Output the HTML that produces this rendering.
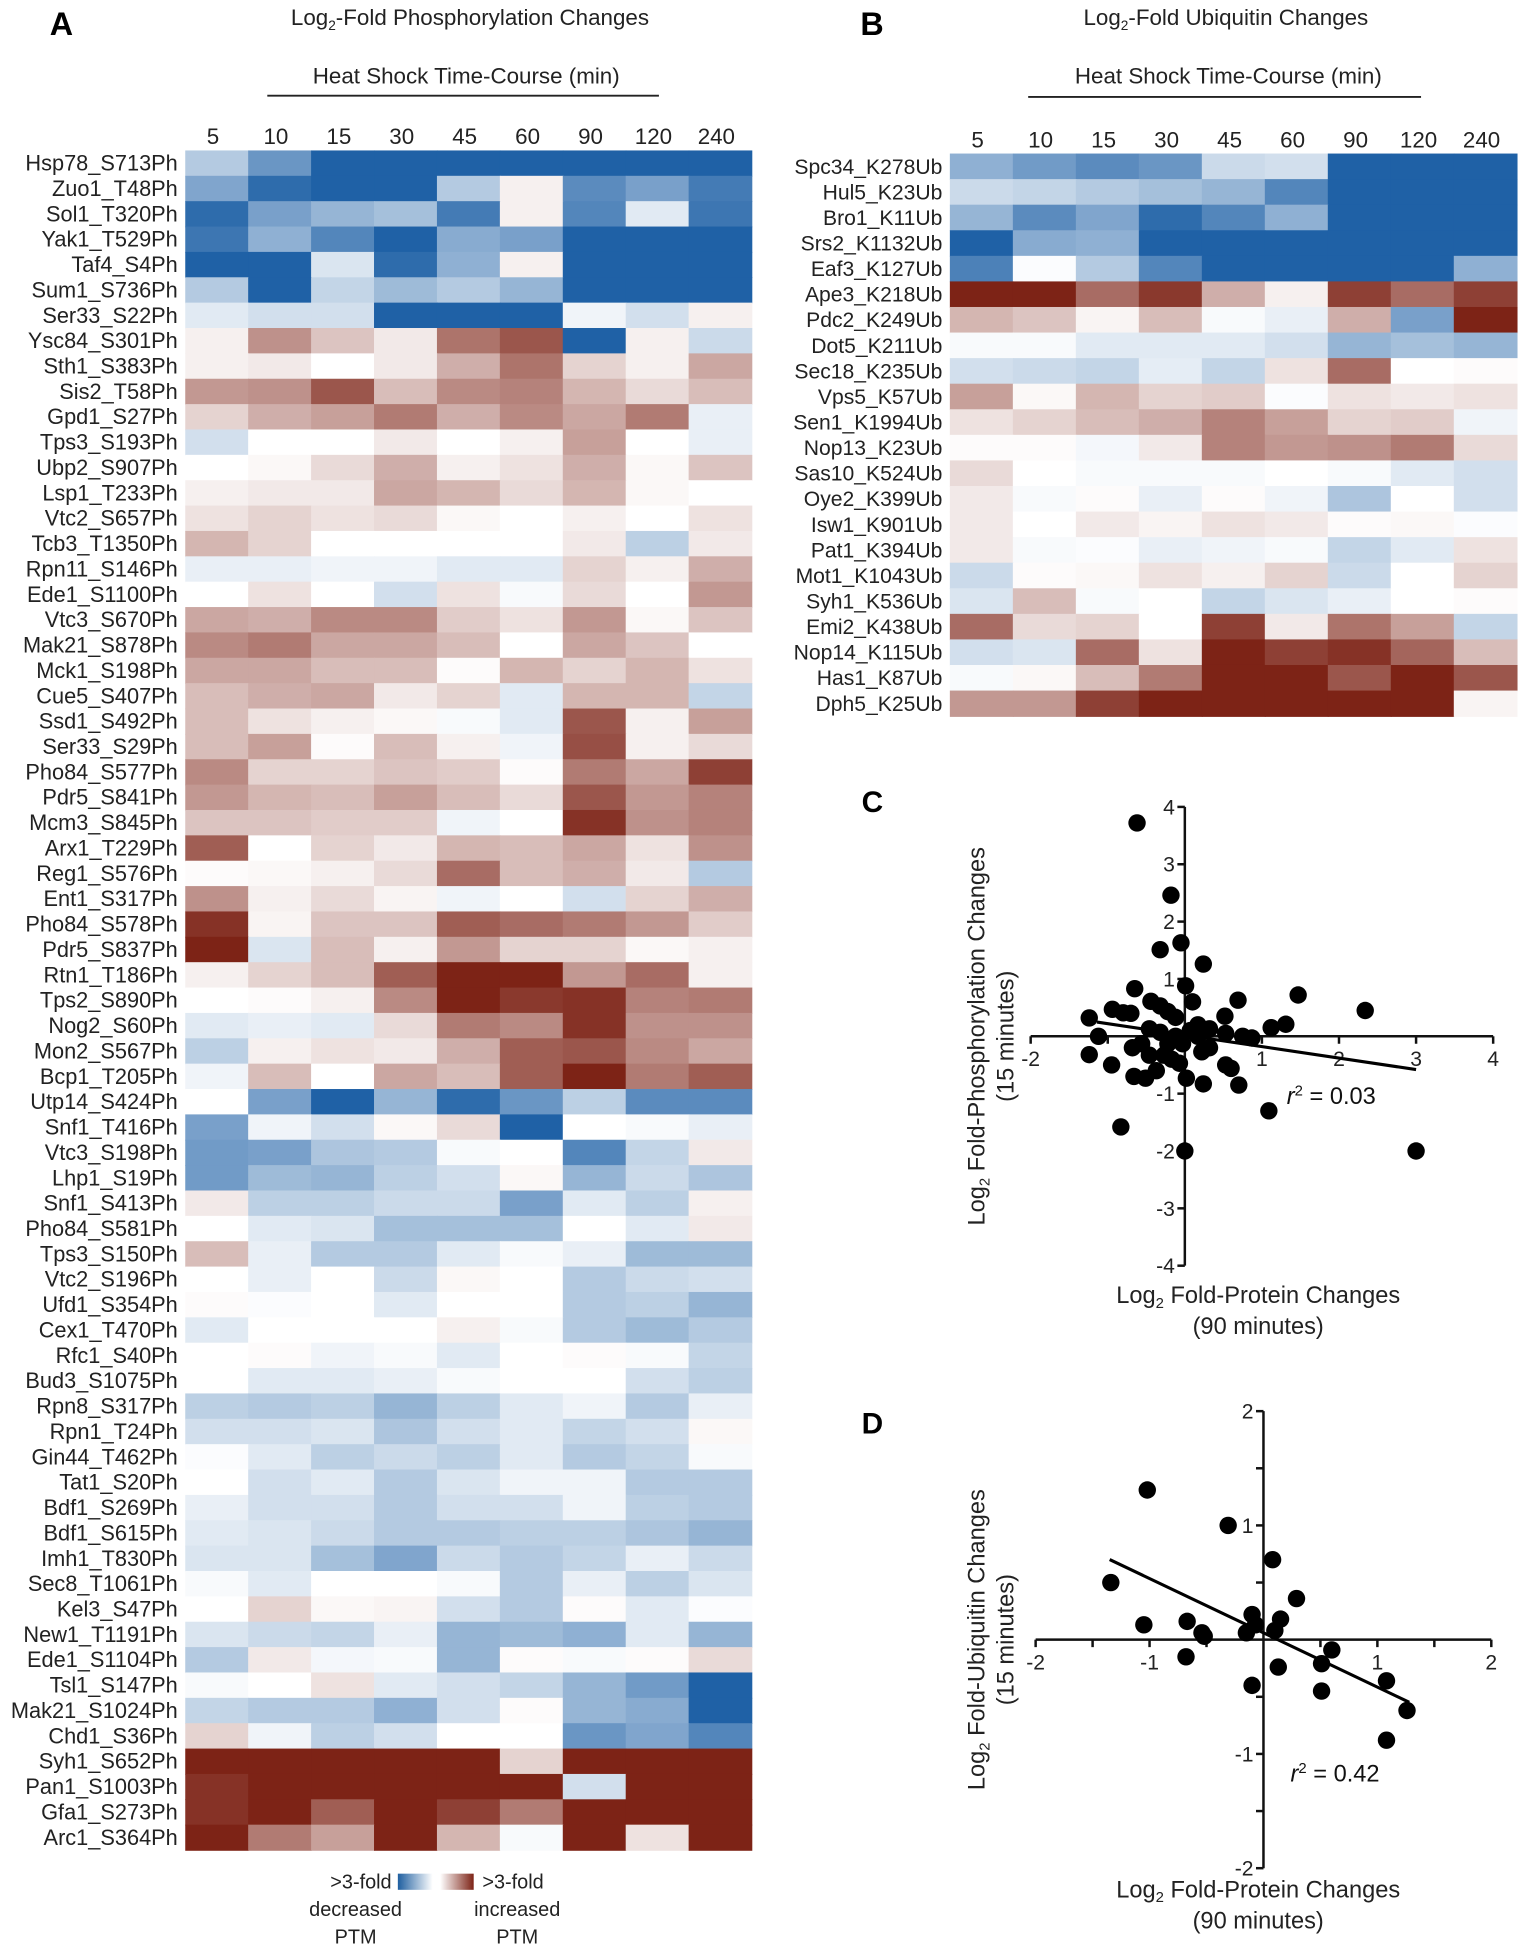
<!DOCTYPE html>
<html><head><meta charset="utf-8"><title>PTM heatmaps and correlations</title>
<style>
html,body{margin:0;padding:0;background:#fff;}
svg{display:block;font-family:"Liberation Sans",Arial,sans-serif;}
</style></head>
<body>
<svg id="fig" xmlns="http://www.w3.org/2000/svg" width="1523" height="1950" viewBox="0 0 1225 1568.4" preserveAspectRatio="none">
<defs>
<linearGradient id="gBlue" x1="0" x2="1" y1="0" y2="0"><stop offset="0" stop-color="#1f5fa0"/><stop offset="1" stop-color="#ffffff"/></linearGradient>
<linearGradient id="gRed" x1="0" x2="1" y1="0" y2="0"><stop offset="0" stop-color="#ffffff"/><stop offset="1" stop-color="#7d2316"/></linearGradient>
</defs>
<text x="40" y="28" font-size="26" font-weight="bold">A</text>
<text x="378" y="20" font-size="18" text-anchor="middle" fill="#222">Log<tspan font-size="11" dy="4">2</tspan><tspan dy="-4">-Fold Phosphorylation Changes</tspan></text>
<text x="375" y="67" font-size="18" text-anchor="middle" fill="#222">Heat Shock Time-Course (min)</text>
<line x1="215" y1="77" x2="530" y2="77" stroke="#222" stroke-width="1.5"/>
<text x="692" y="28" font-size="26" font-weight="bold">B</text>
<text x="986" y="20" font-size="18" text-anchor="middle" fill="#222">Log<tspan font-size="11" dy="4">2</tspan><tspan dy="-4">-Fold Ubiquitin Changes</tspan></text>
<text x="988" y="67" font-size="18" text-anchor="middle" fill="#222">Heat Shock Time-Course (min)</text>
<line x1="827" y1="78" x2="1143" y2="78" stroke="#222" stroke-width="1.5"/>
<text x="693" y="653" font-size="24" font-weight="bold">C</text>
<text x="693" y="1153" font-size="24" font-weight="bold">D</text>
<g>
<rect x="320" y="1507" width="28" height="13" fill="url(#gBlue)"/>
<rect x="354" y="1507" width="27" height="13" fill="url(#gRed)"/>
<text x="315" y="1519" font-size="16" text-anchor="end" fill="#222">&gt;3-fold</text>
<text x="286" y="1541" font-size="16" text-anchor="middle" fill="#222">decreased</text>
<text x="286" y="1563" font-size="16" text-anchor="middle" fill="#222">PTM</text>
<text x="388" y="1519" font-size="16" fill="#222">&gt;3-fold</text>
<text x="416" y="1541" font-size="16" text-anchor="middle" fill="#222">increased</text>
<text x="416" y="1563" font-size="16" text-anchor="middle" fill="#222">PTM</text>
</g>
</svg>
<script>
const timepoints = ["5","10","15","30","45","60","90","120","240"];
const phosSites = ["Hsp78_S713Ph","Zuo1_T48Ph","Sol1_T320Ph","Yak1_T529Ph","Taf4_S4Ph","Sum1_S736Ph","Ser33_S22Ph","Ysc84_S301Ph","Sth1_S383Ph","Sis2_T58Ph","Gpd1_S27Ph","Tps3_S193Ph","Ubp2_S907Ph","Lsp1_T233Ph","Vtc2_S657Ph","Tcb3_T1350Ph","Rpn11_S146Ph","Ede1_S1100Ph","Vtc3_S670Ph","Mak21_S878Ph","Mck1_S198Ph","Cue5_S407Ph","Ssd1_S492Ph","Ser33_S29Ph","Pho84_S577Ph","Pdr5_S841Ph","Mcm3_S845Ph","Arx1_T229Ph","Reg1_S576Ph","Ent1_S317Ph","Pho84_S578Ph","Pdr5_S837Ph","Rtn1_T186Ph","Tps2_S890Ph","Nog2_S60Ph","Mon2_S567Ph","Bcp1_T205Ph","Utp14_S424Ph","Snf1_T416Ph","Vtc3_S198Ph","Lhp1_S19Ph","Snf1_S413Ph","Pho84_S581Ph","Tps3_S150Ph","Vtc2_S196Ph","Ufd1_S354Ph","Cex1_T470Ph","Rfc1_S40Ph","Bud3_S1075Ph","Rpn8_S317Ph","Rpn1_T24Ph","Gin44_T462Ph","Tat1_S20Ph","Bdf1_S269Ph","Bdf1_S615Ph","Imh1_T830Ph","Sec8_T1061Ph","Kel3_S47Ph","New1_T1191Ph","Ede1_S1104Ph","Tsl1_S147Ph","Mak21_S1024Ph","Chd1_S36Ph","Syh1_S652Ph","Pan1_S1003Ph","Gfa1_S273Ph","Arc1_S364Ph"];
const phosValues = [
[-1,-2,-3,-3,-3,-3,-3,-3,-3],
[-1.7,-2.8,-3,-3,-1,0.2,-2.2,-1.8,-2.5],
[-2.8,-1.8,-1.4,-1.2,-2.5,0.2,-2.3,-0.4,-2.6],
[-2.6,-1.5,-2.3,-3,-1.6,-1.8,-3,-3,-3],
[-3,-3,-0.5,-2.8,-1.5,0.2,-3,-3,-3],
[-1,-3,-0.8,-1.3,-1,-1.4,-3,-3,-3],
[-0.4,-0.6,-0.6,-3,-3,-3,-0.2,-0.6,0.2],
[0.2,1.5,0.8,0.3,1.9,2.3,-3,0.2,-0.7],
[0.2,0.3,0,0.3,1.1,1.9,0.6,0.2,1.2],
[1.4,1.5,2.3,0.9,1.6,1.7,1,0.5,0.9],
[0.6,1.1,1.3,1.8,1.1,1.6,1.2,1.8,-0.3],
[-0.6,0,0,0.3,0,0.2,1.3,0,-0.3],
[0,0.1,0.5,1.1,0.2,0.4,1.1,0.1,0.8],
[0.2,0.3,0.3,1.2,1,0.5,1,0.1,0],
[0.4,0.6,0.4,0.5,0.1,0,0.2,0,0.4],
[1,0.6,0,0,0,0,0.3,-0.9,0.3],
[-0.3,-0.3,-0.2,-0.2,-0.4,-0.4,0.6,0.2,1.1],
[0,0.4,0,-0.6,0.4,-0.1,0.5,0,1.4],
[1.2,1.1,1.6,1.6,0.7,0.4,1.4,0.1,0.8],
[1.6,1.8,1.2,1.2,0.9,0,1.2,0.8,0],
[1.2,1.2,0.9,0.9,0.05,1,0.6,1,0.4],
[0.9,1.1,1.2,0.3,0.6,-0.4,1,1,-0.8],
[0.9,0.4,0.2,0.1,-0.1,-0.4,2.3,0.2,1.3],
[0.9,1.3,0.05,0.9,0.2,-0.2,2.4,0.2,0.5],
[1.6,0.6,0.6,0.8,0.7,0.05,1.8,1.2,2.6],
[1.4,1,0.9,1.3,0.9,0.5,2.3,1.4,1.7],
[0.8,0.8,0.7,0.7,-0.2,0,2.8,1.5,1.7],
[2.2,0,0.6,0.3,1,0.9,1.2,0.4,1.5],
[0.05,0.1,0.2,0.5,2,0.9,1.1,0.3,-1],
[1.5,0.2,0.5,0.15,-0.2,0,-0.6,0.6,1.1],
[2.8,0.15,0.8,0.8,2.2,2,1.8,1.4,0.7],
[3,-0.5,0.9,0.2,1.4,0.6,0.6,0.1,0.2],
[0.2,0.6,0.9,2.2,3,3,1.4,2,0.2],
[0,0.05,0.2,1.6,3,2.7,2.8,1.7,1.8],
[-0.4,-0.3,-0.4,0.5,1.8,1.6,2.8,1.5,1.5],
[-0.9,0.2,0.4,0.3,1.1,2.2,2.3,1.6,1.2],
[-0.2,0.9,0,1.2,0.9,2.2,3,1.8,2.2],
[0,-1.8,-3,-1.4,-2.8,-2,-0.9,-2.2,-2.2],
[-1.8,-0.2,-0.6,0.1,0.5,-3,0,-0.1,-0.3],
[-1.9,-1.8,-1.1,-1,-0.1,0,-2.3,-0.8,0.3],
[-1.9,-1.3,-1.4,-0.9,-0.6,0.1,-1.4,-0.7,-1.1],
[0.3,-0.9,-0.9,-0.7,-0.7,-1.8,-0.4,-0.9,0.2],
[0,-0.4,-0.5,-1.2,-1.2,-1.2,0,-0.4,0.3],
[0.9,-0.3,-1,-1,-0.4,-0.1,-0.3,-1.3,-1.3],
[0,-0.3,0,-0.7,0.1,0,-1,-0.7,-0.6],
[0.05,-0.05,0,-0.4,0,0,-1,-0.9,-1.4],
[-0.4,0,0,0,0.2,-0.1,-1,-1.3,-1],
[0,0.05,-0.2,-0.1,-0.4,0,0.05,-0.1,-0.8],
[0,-0.4,-0.4,-0.3,-0.1,0,0,-0.6,-0.9],
[-0.9,-1,-0.9,-1.4,-0.9,-0.4,-0.2,-1,-0.3],
[-0.6,-0.6,-0.5,-1.1,-0.6,-0.4,-0.8,-0.6,0.1],
[-0.05,-0.4,-0.9,-0.7,-0.9,-0.4,-1,-0.8,-0.1],
[0,-0.6,-0.4,-1,-0.5,-0.2,-0.2,-1,-1],
[-0.3,-0.6,-0.6,-1,-0.6,-0.6,-0.2,-0.9,-1],
[-0.4,-0.5,-0.7,-1,-1,-0.9,-0.9,-1.1,-1.4],
[-0.5,-0.5,-1.2,-1.7,-0.7,-1,-0.8,-0.3,-0.7],
[-0.1,-0.4,0,0,-0.1,-1,-0.3,-0.9,-0.5],
[0,0.6,0.1,0.15,-0.6,-1,0.05,-0.4,-0.05],
[-0.5,-0.7,-0.8,-0.3,-1.4,-1.3,-1.5,-0.4,-1.4],
[-1,0.3,-0.15,-0.1,-1.4,0.05,-0.1,0.05,0.5],
[-0.1,0,0.4,-0.4,-0.6,-0.8,-1.4,-1.9,-3],
[-0.8,-1,-1,-1.5,-0.6,0.05,-1.4,-1.6,-3],
[0.6,-0.2,-0.9,-0.6,0,0,-2,-1.7,-2.3],
[3,3,3,3,3,0.6,3,3,3],
[2.8,3,3,3,3,3,-0.6,3,3],
[2.8,3,2.2,3,2.6,1.8,3,3,3],
[3,1.8,1.3,3,1,-0.1,3,0.4,3]
];
const ubSites = ["Spc34_K278Ub","Hul5_K23Ub","Bro1_K11Ub","Srs2_K1132Ub","Eaf3_K127Ub","Ape3_K218Ub","Pdc2_K249Ub","Dot5_K211Ub","Sec18_K235Ub","Vps5_K57Ub","Sen1_K1994Ub","Nop13_K23Ub","Sas10_K524Ub","Oye2_K399Ub","Isw1_K901Ub","Pat1_K394Ub","Mot1_K1043Ub","Syh1_K536Ub","Emi2_K438Ub","Nop14_K115Ub","Has1_K87Ub","Dph5_K25Ub"];
const ubValues = [
[-1.5,-1.9,-2.2,-2,-0.7,-0.6,-3,-3,-3],
[-0.7,-0.8,-1,-1.2,-1.4,-2.3,-3,-3,-3],
[-1.4,-2.2,-1.7,-2.8,-2.3,-1.5,-3,-3,-3],
[-3,-1.6,-1.5,-3,-3,-3,-3,-3,-3],
[-2.4,-0.05,-1,-2.3,-3,-3,-3,-3,-1.5],
[3,3,2,2.7,1.1,0.2,2.6,2,2.6],
[1,0.8,0.15,0.9,-0.1,-0.3,1.1,-1.8,3],
[-0.1,-0.1,-0.4,-0.4,-0.4,-0.6,-1.4,-1.2,-1.4],
[-0.6,-0.7,-0.8,-0.35,-0.8,0.4,2,0,0.05],
[1.3,0.1,1,0.6,0.7,-0.05,0.4,0.3,0.4],
[0.4,0.6,0.9,1.1,1.7,1.3,0.6,0.7,-0.2],
[0.05,0.05,-0.15,0.3,1.7,1.4,1.5,1.8,0.5],
[0.5,0,-0.1,-0.1,-0.1,0,-0.1,-0.4,-0.6],
[0.3,-0.1,0.05,-0.3,0.05,-0.2,-1.1,0,-0.6],
[0.3,0,0.3,0.15,0.4,0.3,0.05,0.1,-0.05],
[0.3,-0.1,-0.05,-0.3,-0.2,-0.1,-0.8,-0.4,0.4],
[-0.7,0.05,0.1,0.4,0.2,0.6,-0.7,0,0.6],
[-0.5,0.9,-0.1,0,-0.8,-0.5,-0.3,0,0.05],
[2,0.5,0.6,0,2.6,0.3,1.9,1.3,-0.8],
[-0.6,-0.5,2,0.4,3,2.6,2.8,2.1,0.9],
[-0.1,0.1,0.9,1.8,3,3,2.3,3,2.3],
[1.4,1.4,2.6,3,3,3,3,3,0.15]
];
const cProteinX = [-0.62,-0.18,-0.05,-0.32,0.24,0.01,-0.65,0.1,0.69,1.47,2.34,-1.24,-0.94,-0.7,-0.8,-0.44,-0.32,-0.22,-0.12,0.52,0.17,0.32,1.12,1.31,0.75,0.87,0.53,-1.12,-1.24,-0.95,-0.83,0,1.09,3.0,0.24,0.7,0.53,0.6,-0.66,-0.51,-0.37,-0.27,-0.07,0.02,0.22,0.32,-0.68,-0.56,-0.46,-0.32,-0.22,-0.12,-0.03,0.07,0.17,-0.46,-0.17];
const cPhosY = [3.72,2.46,1.63,1.51,1.26,0.88,0.83,0.6,0.63,0.72,0.45,0.32,0.47,0.4,0.41,0.61,0.53,0.43,0.33,0.35,0.2,0.13,0.15,0.21,0,-0.03,0.05,0,-0.32,-0.5,-1.58,-2,-1.3,-2,-0.83,-0.85,-0.5,-0.56,-0.7,-0.73,-0.6,-0.33,-0.47,-0.73,-0.27,-0.2,-0.2,-0.13,0.13,0.07,-0.13,0,-0.13,0.1,0,-0.33,-0.4];
const cFit = {slope:-0.2, intercept:0.02, xFrom:-1.14, xTo:3.0};
const cR2 = "0.03";
const dProteinX = [-1.02,-0.31,0.08,-1.34,0.29,-1.05,-0.67,-0.54,-0.52,-0.1,-0.15,-0.07,0.1,0.15,-0.68,0.13,-0.1,0.6,0.51,0.51,1.08,1.26,1.08];
const dUbY = [1.31,1.0,0.7,0.5,0.36,0.13,0.16,0.06,0.03,0.22,0.06,0.13,0.08,0.18,-0.15,-0.24,-0.4,-0.09,-0.21,-0.45,-0.36,-0.62,-0.88];
const dFit = {slope:-0.475, intercept:0.06, xFrom:-1.35, xTo:1.28};
const dR2 = "0.42";

const NS = "http://www.w3.org/2000/svg";
const svg = document.getElementById("fig");
function mk(tag, attrs, parent){const e=document.createElementNS(NS,tag);for(const k in attrs)e.setAttribute(k,attrs[k]);(parent||svg).appendChild(e);return e;}
function color(v){
  const t=Math.max(-1,Math.min(1,v/3));
  let c;
  if(t<0){const a=-t;c=[255+(31-255)*a,255+(97-255)*a,255+(166-255)*a];}
  else{const a=t;c=[255+(125-255)*a,255+(35-255)*a,255+(22-255)*a];}
  return "rgb("+c.map(Math.round).join(",")+")";
}
function heatmap(name, sites, values, x0, x1, y0, y1, labelX, labelSize){
  const g=mk("g",{});
  
  
  const cw=(x1-x0)/timepoints.length, rh=(y1-y0)/sites.length;
  const colX=i=>x0+i*cw, rowY=j=>y0+j*rh;
  timepoints.forEach((t,i)=>{
    const tx=mk("text",{x:colX(i)+cw/2-3,y:y0-5,"font-size":18,"text-anchor":"middle",fill:"#222"},g);
    tx.textContent=t;
    
    
  });
  sites.forEach((s,j)=>{
    const tl=mk("text",{x:labelX,y:rowY(j)+rh/2+6,"font-size":labelSize,"text-anchor":"end",fill:"#222"},g);
    tl.textContent=s;
    
    
    values[j].forEach((v,i)=>{
      const r=mk("rect",{x:colX(i),y:rowY(j),width:cw+0.6,height:rh+0.6,fill:color(v)},g);
      
      
    });
  });
}
heatmap("phospho-heatmap", phosSites, phosValues, 149, 604.5, 121, 1488, 143, 17.5);
heatmap("ubiquitin-heatmap", ubSites, ubValues, 764, 1220, 123.5, 576, 758, 17);

function scatter(name, xs, ys, fit, r2, o){
  const g=mk("g",{});
  
  
  const sx=v=>o.xL+(v-o.xmin)*(o.xR-o.xL)/(o.xmax-o.xmin);
  const sy=v=>o.yB-(v-o.ymin)*(o.yB-o.yT)/(o.ymax-o.ymin);
  const x0=sx(0), y0=sy(0);
  const xa=mk("line",{x1:sx(o.xmin),x2:sx(o.xmax),y1:y0,y2:y0,stroke:"#111","stroke-width":2},g);
  
  
  const ya=mk("line",{x1:x0,x2:x0,y1:sy(o.ymax),y2:sy(o.ymin),stroke:"#111","stroke-width":2},g);
  
  
  o.xticks.forEach(t=>{
    mk("line",{x1:sx(t),x2:sx(t),y1:y0,y2:y0+6,stroke:"#111","stroke-width":2},g);
    if(o.xlabels.includes(t)){
      const tx=mk("text",{x:sx(t),y:y0+24,"font-size":17,"text-anchor":"middle",fill:"#222"},g);
      tx.textContent=String(t);
      
      
    }
  });
  o.yticks.forEach(t=>{
    mk("line",{x1:x0-6,x2:x0,y1:sy(t),y2:sy(t),stroke:"#111","stroke-width":2},g);
    if(o.ylabels.includes(t)){
      const tx=mk("text",{x:x0-8,y:sy(t)+6,"font-size":17,"text-anchor":"end",fill:"#222"},g);
      tx.textContent=String(t);
      
      
    }
  });
  xs.forEach((x,i)=>{
    const c=mk("circle",{cx:sx(x),cy:sy(ys[i]),r:7,fill:"#000"},g);
    
    
  });
  const fl=mk("line",{x1:sx(fit.xFrom),y1:sy(fit.intercept+fit.slope*fit.xFrom),x2:sx(fit.xTo),y2:sy(fit.intercept+fit.slope*fit.xTo),stroke:"#000","stroke-width":2.5},g);
  
  
  const rt=mk("text",{x:o.r2x,y:o.r2y,"font-size":19,fill:"#111"},g);
  rt.innerHTML='<tspan font-style="italic">r</tspan><tspan font-size="12" dy="-7">2</tspan><tspan dy="7"> = '+r2+'</tspan>';
  
  
  const cy=(o.yT+o.yB)/2;
  const t1=mk("text",{x:0,y:0,"font-size":19,"text-anchor":"middle",fill:"#222",transform:"translate(792,"+cy+") rotate(-90)"},g);
  t1.innerHTML='Log<tspan font-size="12" dy="4">2</tspan><tspan dy="-4"> '+o.ytitle+'</tspan>';
  
  
  const t2=mk("text",{x:0,y:0,"font-size":19,"text-anchor":"middle",fill:"#222",transform:"translate(815,"+cy+") rotate(-90)"},g);
  t2.textContent="(15 minutes)";
  
  
  const t3=mk("text",{x:1012,y:o.xtY,"font-size":19,"text-anchor":"middle",fill:"#222"},g);
  t3.innerHTML='Log<tspan font-size="12" dy="4">2</tspan><tspan dy="-4"> Fold-Protein Changes</tspan>';
  
  
  const t4=mk("text",{x:1012,y:o.xtY+25,"font-size":19,"text-anchor":"middle",fill:"#222"},g);
  t4.textContent="(90 minutes)";
  
  
}
scatter("scatter-c", cProteinX, cPhosY, cFit, cR2, {xmin:-2,xmax:4,ymin:-4,ymax:4,xL:829,xR:1201,yT:649,yB:1018,
  xticks:[-2,-1,1,2,3,4],xlabels:[-2,1,2,3,4],yticks:[4,3,2,1,-1,-2,-3,-4],ylabels:[4,3,2,1,-1,-2,-3,-4],
  r2x:1035,r2y:888,ytitle:"Fold-Phosphorylation Changes",xtY:1048});
scatter("scatter-d", dProteinX, dUbY, dFit, dR2, {xmin:-2,xmax:2,ymin:-2,ymax:2,xL:833,xR:1199.5,yT:1135,yB:1502.6,
  xticks:[-2,-1.5,-1,-0.5,0.5,1,1.5,2],xlabels:[-2,-1,1,2],yticks:[2,1.5,1,0.5,-0.5,-1,-1.5,-2],ylabels:[2,1,-1,-2],
  r2x:1038,r2y:1433,ytitle:"Fold-Ubiquitin Changes",xtY:1526});
</script>
</body></html>
